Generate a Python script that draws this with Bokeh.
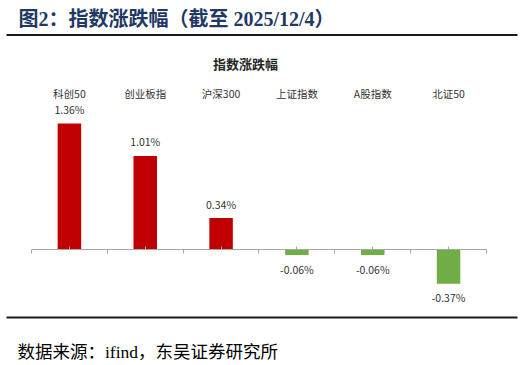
from bokeh.plotting import figure
from bokeh.models import Range1d, LinearAxis, FixedTicker, ColumnDataSource
from bokeh.core.properties import value
from bokeh.embed import file_html
from bokeh.resources import INLINE

# ---- data ----
categories = ["科创50", "创业板指", "沪深300", "上证指数", "A股指数", "北证50"]
values = [1.36, 1.01, 0.34, -0.06, -0.06, -0.37]
header_text = "图2：指数涨跌幅（截至 2025/12/4）"
chart_title = "指数涨跌幅"
source_text = "数据来源：ifind，东吴证券研究所"

# ---- geometry (pixels of the page) ----
W, H = 523, 362
PX_CAT = 75.83          # px per category
PX_UNIT = 92.6          # px per 1 %
ZERO_Y = 249            # page y of zero line
AXIS_X0 = 31            # page x of first boundary
FRAME_TOP = 0
FRAME_BOTTOM = FRAME_TOP + H
FRAME_LEFT = 0


def dx(px):
    return (px - AXIS_X0) / PX_CAT


def dy(py):
    return (ZERO_Y - py) / PX_UNIT


x_range = Range1d(dx(FRAME_LEFT), dx(FRAME_LEFT + W))
y_range = Range1d(dy(FRAME_BOTTOM), dy(FRAME_TOP))

p = figure(width=W, height=H, x_range=x_range, y_range=y_range,
           output_backend="svg", toolbar_location=None,
           x_axis_location=None, y_axis_location=None,
           min_border=0, outline_line_color=None)
p.xgrid.visible = False
p.ygrid.visible = False

n = len(categories)
xs = [i + 0.5 for i in range(n)]
colors = ["#C00000" if v >= 0 else "#70AD47" for v in values]
labels = [f"{v:.2f}%" for v in values]
offsets = [-14 if v >= 0 else 14 for v in values]

src = ColumnDataSource(dict(x=xs, v=values, cat=categories, color=colors,
                            lab=labels, off=offsets))

# zero axis with boundary ticks and centre minor ticks
ax = LinearAxis(fixed_location=0, bounds=(0, n),
                ticker=FixedTicker(ticks=list(range(n + 1)),
                                   minor_ticks=[i + 0.5 for i in range(n)]),
                major_label_overrides={i: "" for i in range(n + 1)},
                major_label_text_font_size="1px", major_label_standoff=0,
                major_tick_in=4, major_tick_out=0,
                minor_tick_in=0, minor_tick_out=3,
                axis_line_color="#A6A6A6", major_tick_line_color="#A6A6A6",
                minor_tick_line_color="#A6A6A6")
p.add_layout(ax, "above")

p.vbar(x="x", top="v", bottom=0, width=0.31, fill_color="color",
       line_color=None, source=src)

sans = value("Noto Sans CJK SC")
serif = value("'Liberation Serif', 'Noto Sans CJK SC'")

# value labels
p.text(x="x", y="v", text="lab", y_offset="off", text_align="center",
       text_baseline="middle", text_font=sans, text_font_size="10.5px",
       text_color="#333333", source=src)

# category labels
p.text(x="x", y=dy(93), text="cat", text_align="center",
       text_baseline="middle", text_font=sans, text_font_size="10.5px",
       text_color="#333333", source=src)

# chart title
p.text(x=[dx(245)], y=[dy(63)], text=[chart_title], text_align="center",
       text_baseline="middle", text_font=sans, text_font_size="13px",
       text_font_style="bold", text_color="#262626")

# header
p.text(x=[dx(18)], y=[dy(18)], text=[header_text], text_align="left",
       text_baseline="middle", text_font=serif, text_font_size="20px",
       text_font_style="bold", text_color="#1F3864")

# rules
p.segment(x0=[dx(6)], x1=[dx(517)], y0=[dy(34.5)], y1=[dy(34.5)],
          line_width=2, line_color="#1a1a1a")
p.segment(x0=[dx(6)], x1=[dx(517)], y0=[dy(317)], y1=[dy(317)],
          line_width=2, line_color="#1a1a1a")

# source
p.text(x=[dx(17)], y=[dy(351)], text=[source_text], text_align="left",
       text_baseline="middle", text_font=serif, text_font_size="17.5px",
       text_color="#000000")

open("out.html", "w").write(file_html(p, INLINE))
